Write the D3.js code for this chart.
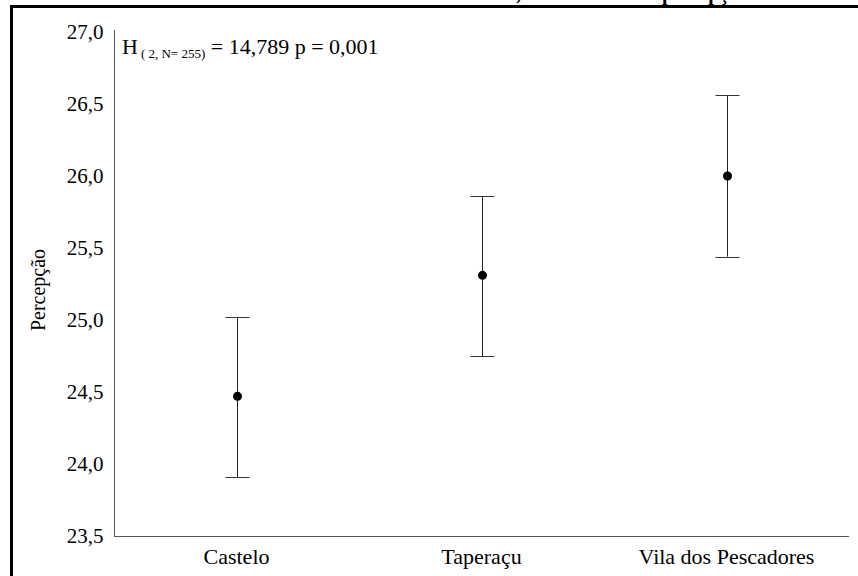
<!DOCTYPE html>
<html>
<head>
<meta charset="utf-8">
<script src="https://cdn.jsdelivr.net/npm/d3@7/dist/d3.min.js"></script>
<style>
  html, body { margin: 0; padding: 0; background: #fff; }
  svg { display: block; }
</style>
</head>
<body>
<div id="chart"></div>
<script>
'use strict';

// data
var groups = ['Castelo', 'Taperaçu', 'Vila dos Pescadores'];
var means = [24.47, 25.31, 26.00];
var lower = [23.91, 24.75, 25.44];
var upper = [25.02, 25.86, 26.56];
var yTicks = [23.5, 24.0, 24.5, 25.0, 25.5, 26.0, 26.5, 27.0];
var stat = { h: '14,789', df: 2, n: 255, p: '0,001' };

var width = 858, height = 576;
var serif = "'Liberation Serif', 'Times New Roman', Tinos, serif";

var svg = d3.select('#chart').append('svg')
    .attr('width', width)
    .attr('height', height);

var ptBR = d3.formatLocale({ decimal: ',', thousands: '.', grouping: [3], currency: ['R$', ''] });
var fmt = ptBR.format('.1f');

var x = d3.scaleBand()
    .domain(groups)
    .range([114, 849])
    .padding(0);

var y = d3.scaleLinear()
    .domain([23.5, 27])
    .range([536, 32]);

// outer frame (cut by the picture's right and bottom edges)
svg.append('path')
    .attr('d', 'M11.5,' + height + 'V6.5H' + width)
    .attr('fill', 'none')
    .attr('stroke', '#000')
    .attr('stroke-width', 3);

// title cut off by the top edge, only descenders show
svg.append('text')
    .attr('x', 521).attr('y', 0)
    .attr('text-anchor', 'end')
    .style('font-family', serif)
    .attr('font-size', 20).attr('font-weight', 'bold')
    .text('Kruskal-Wallis,');
svg.append('text')
    .attr('x', 662).attr('y', 0)
    .style('font-family', serif)
    .attr('font-size', 20).attr('font-weight', 'bold')
    .text('percepção');

// axes
var yAxis = svg.append('g')
    .attr('transform', 'translate(114.5,0)')
    .call(d3.axisLeft(y).tickValues(yTicks).tickFormat(fmt).tickSize(0).tickPadding(11));

var xAxis = svg.append('g')
    .attr('transform', 'translate(0,536.5)')
    .call(d3.axisBottom(x).tickSize(0).tickPadding(12));

yAxis.selectAll('text').style('font-size', '21px');
xAxis.selectAll('text').style('font-size', '22px');
[yAxis, xAxis].forEach(function(ax) {
    ax.attr('font-family', null).attr('font-size', null);
    ax.selectAll('text')
        .style('font-family', serif)
        .attr('fill', '#000');
});
yAxis.select('.domain').attr('stroke', '#555').attr('d', 'M0,30V536');
xAxis.select('.domain').attr('stroke', '#555').attr('d', 'M114,0H849');

// y label
svg.append('text')
    .attr('transform', 'translate(45,290) rotate(-90)')
    .attr('text-anchor', 'middle')
    .style('font-family', serif)
    .attr('font-size', 20)
    .text('Percepção');

// statistic annotation
var ann = svg.append('text')
    .attr('x', 122).attr('y', 54)
    .style('font-family', serif)
    .attr('font-size', 22);
ann.append('tspan').text('H');
ann.append('tspan')
    .attr('font-size', 13).attr('dy', 4).attr('dx', 3)
    .text('( ' + stat.df + ', N= ' + stat.n + ')');
ann.append('tspan')
    .attr('dy', -4)
    .text(' = ' + stat.h + ' p = ' + stat.p);

// error bars
var rows = groups.map(function(g, i) {
    return { g: g, m: means[i], lo: lower[i], hi: upper[i] };
});
var cx = function(d) { return Math.round(x(d.g) + x.bandwidth() / 2) + 0.5; };
var cap = 12;

var bars = svg.append('g').selectAll('g')
    .data(rows)
    .join('g');

bars.append('line')
    .attr('x1', cx).attr('x2', cx)
    .attr('y1', function(d) { return y(d.hi); })
    .attr('y2', function(d) { return y(d.lo); })
    .attr('stroke', '#222').attr('stroke-width', 1);

bars.selectAll('line.cap')
    .data(function(d) { return [{ x: cx(d), v: d.hi }, { x: cx(d), v: d.lo }]; })
    .join('line')
    .attr('class', 'cap')
    .attr('x1', function(d) { return d.x - cap; })
    .attr('x2', function(d) { return d.x + cap; })
    .attr('y1', function(d) { return Math.round(y(d.v)) + 0.5; })
    .attr('y2', function(d) { return Math.round(y(d.v)) + 0.5; })
    .attr('stroke', '#333').attr('stroke-width', 1);

bars.append('circle')
    .attr('cx', cx)
    .attr('cy', function(d) { return y(d.m); })
    .attr('r', 4.5)
    .attr('fill', '#000');
</script>
</body>
</html>
